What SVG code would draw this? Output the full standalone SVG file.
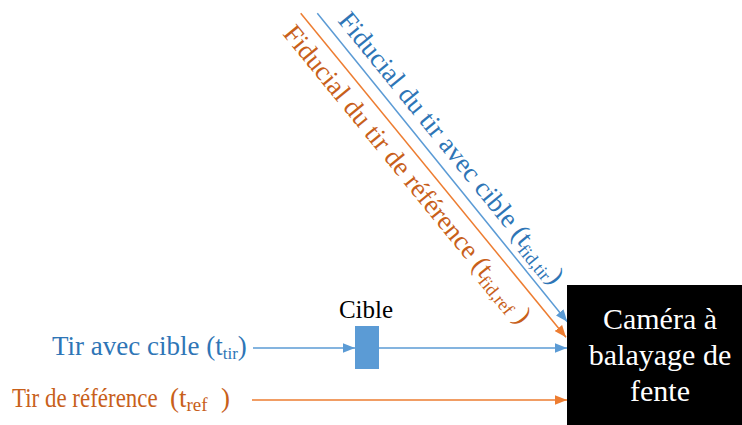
<svg xmlns="http://www.w3.org/2000/svg" width="742" height="425" viewBox="0 0 742 425">
<style>
text{font-family:"Liberation Serif","Times New Roman",serif}
.bt{fill:#2E75B6}
.ot{fill:#C8601A}
.bl{stroke:#5B9BD5;stroke-width:1.5;fill:none}
.ol{stroke:#ED7D31;stroke-width:1.5;fill:none}
</style>
<defs>
<marker id="ab" markerUnits="userSpaceOnUse" markerWidth="12" markerHeight="10" viewBox="0 0 10 8" refX="10" refY="4" orient="auto"><path d="M0,0L10,4L0,8z" fill="#5B9BD5"/></marker>
<marker id="ao" markerUnits="userSpaceOnUse" markerWidth="12" markerHeight="10" viewBox="0 0 10 8" refX="10" refY="4" orient="auto"><path d="M0,0L10,4L0,8z" fill="#ED7D31"/></marker>
</defs>
<rect width="742" height="425" fill="#fff"/>
<g id="connectors">
<line class="bl" x1="317.3" y1="13.3" x2="567.3" y2="321.7" marker-end="url(#ab)"/>
<line class="ol" x1="300.7" y1="13.3" x2="566" y2="337.3" marker-end="url(#ao)"/>
<line class="bl" x1="253" y1="348" x2="355" y2="348" marker-end="url(#ab)"/>
<line class="bl" x1="379" y1="348" x2="567" y2="348" marker-end="url(#ab)"/>
<line class="ol" x1="252" y1="400" x2="567" y2="400" marker-end="url(#ao)"/>
</g>
<g id="camera">
<rect x="567" y="285" width="175" height="140" fill="#000"/>
<text x="660" y="329" font-size="30" fill="#fff" text-anchor="middle">Caméra à</text>
<text x="660" y="365" font-size="30" fill="#fff" text-anchor="middle">balayage de</text>
<text x="660" y="401" font-size="30" fill="#fff" text-anchor="middle">fente</text>
</g>
<g id="cible">
<rect x="355" y="326" width="24" height="43" fill="#5B9BD5"/>
<text x="366" y="318" font-size="25" fill="#000" text-anchor="middle">Cible</text>
</g>
<g id="tir-avec-cible">
<text class="bt" x="52" y="355" font-size="27">Tir avec cible (t<tspan font-size="17" dy="4">tir</tspan><tspan dy="-4">)</tspan></text>
</g>
<g id="tir-reference">
<text class="ot" transform="translate(12,407) scale(0.85,1)" font-size="27">Tir de référence</text>
<text class="ot" x="170" y="407" font-size="27">(t<tspan font-size="19" dy="4">ref</tspan></text>
<text class="ot" x="221" y="407" font-size="27">)</text>
</g>
<g id="fiducial-tir">
<text class="bt" transform="translate(337,21) rotate(50.9)" font-size="27">Fiducial du tir avec cible (t<tspan font-size="18" dy="5">fid,tir</tspan><tspan dy="-5">)</tspan></text>
</g>
<g id="fiducial-ref">
<text class="ot" transform="translate(282,34) rotate(50.8)" font-size="27">Fiducial du tir de référence (t<tspan font-size="18" dy="5">fid,ref</tspan><tspan dy="-5"> )</tspan></text>
</g>
</svg>
